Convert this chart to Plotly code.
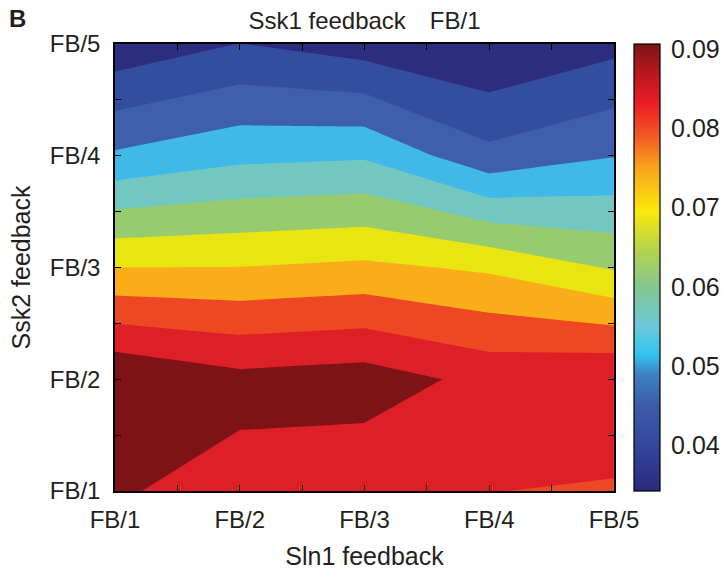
import plotly.graph_objects as go

# ---------------- data ----------------
sln1_labels = ["FB/1", "FB/2", "FB/3", "FB/4", "FB/5"]   # x axis (Sln1 feedback)
ssk2_labels = ["FB/1", "FB/2", "FB/3", "FB/4", "FB/5"]   # y axis (Ssk2 feedback)

# values, one row per Ssk2 level (FB/1 ... FB/5), columns = Sln1 FB/1 ... FB/5
z_ssk2_fb1 = [0.0855, 0.0832, 0.0811, 0.0801, 0.0794]
z_ssk2_fb2 = [0.0899, 0.0865, 0.0875, 0.0835, 0.0847]
z_ssk2_fb3 = [0.0700, 0.0701, 0.0711, 0.0692, 0.0645]
z_ssk2_fb4 = [0.0507, 0.0537, 0.0544, 0.0464, 0.0498]
z_ssk2_fb5 = [0.0365, 0.0401, 0.0375, 0.0351, 0.0385]

colorbar_ticks = [0.04, 0.05, 0.06, 0.07, 0.08, 0.09]
cbar_min, cbar_max = 0.0343, 0.0906
level_start, level_end, level_step = 0.040, 0.085, 0.005

# ---------------- styling ----------------
band_colors = ["#2C2D7F", "#344E9F", "#3E60AA", "#40B8E8", "#72C8C0", "#97CB6D",
               "#E8E512", "#F9AE19", "#EE4723", "#DD1F27", "#7D1317"]
n_b = len(band_colors)
band_scale = [[i / (n_b - 1), c] for i, c in enumerate(band_colors)]

jet_stops = [(0.0343, "#2A2A7C"), (0.040, "#34469B"), (0.045, "#3C5CA8"),
             (0.049, "#3F80C2"), (0.0515, "#33C3F0"), (0.055, "#6CC8DA"),
             (0.060, "#84C690"), (0.065, "#B9D548"), (0.0695, "#FBE90C"),
             (0.075, "#F8A41C"), (0.079, "#F15A26"), (0.083, "#ED1C24"),
             (0.087, "#B7181E"), (0.0906, "#7C1416")]
jet_scale = [[(v - cbar_min) / (cbar_max - cbar_min), c] for v, c in jet_stops]
jet_scale[0][0] = 0.0
jet_scale[-1][0] = 1.0

FONT = "Liberation Sans, Arial, Helvetica, sans-serif"
TXT = "#231F20"

x_pos = list(range(1, len(sln1_labels) + 1))
y_pos = list(range(1, len(ssk2_labels) + 1))
z = [z_ssk2_fb1, z_ssk2_fb2, z_ssk2_fb3, z_ssk2_fb4, z_ssk2_fb5]

fig = go.Figure()
fig.add_trace(go.Contour(
    x=x_pos, y=y_pos, z=z,
    contours=dict(start=level_start, end=level_end, size=level_step,
                  coloring="fill", showlines=False),
    colorscale=band_scale, showscale=False,
    line=dict(width=0, smoothing=0), hoverinfo="skip",
))

# continuous colorbar (separate dummy trace)
fig.add_trace(go.Scatter(
    x=[x_pos[0]], y=[y_pos[0]], mode="markers",
    marker=dict(size=0.1, opacity=0, color=[cbar_min], cmin=cbar_min, cmax=cbar_max,
                colorscale=jet_scale, showscale=True,
                colorbar=dict(
                    x=1.04, xanchor="left", y=0.5, yanchor="middle",
                    len=1.0, lenmode="fraction", thickness=26,
                    outlinewidth=1.2, outlinecolor="black",
                    tickvals=colorbar_ticks, ticktext=[f"{t:.2f}" for t in colorbar_ticks],
                    ticks="outside", ticklen=6, tickcolor="white",
                    tickfont=dict(family=FONT, size=25, color=TXT),
                    ypad=0, xpad=0,
                )),
    hoverinfo="skip", showlegend=False,
))

half_ticks = [1 + 0.5 * i for i in range(2 * len(sln1_labels) - 1)]

def tick_text(labels):
    out = []
    for i in range(2 * len(labels) - 1):
        out.append(labels[i // 2] if i % 2 == 0 else "")
    return out

axis_common = dict(
    showline=True, linecolor="black", linewidth=1.5, mirror="allticks",
    ticks="inside", ticklen=6, tickwidth=1, tickcolor="black",
    showgrid=False, zeroline=False,
    tickfont=dict(family=FONT, size=24, color=TXT),
    tickvals=half_ticks,
)

fig.update_xaxes(range=[1, 5], ticktext=tick_text(sln1_labels),
                 title=dict(text="Sln1 feedback", font=dict(family=FONT, size=25, color=TXT),
                            standoff=16),
                 ticklabelstandoff=6, **axis_common)
fig.update_yaxes(range=[1, 5], ticktext=tick_text(ssk2_labels),
                 title=dict(text="Ssk2 feedback", font=dict(family=FONT, size=25, color=TXT),
                            standoff=12),
                 ticklabelstandoff=8, **axis_common)

fig.update_layout(
    width=727, height=581,
    margin=dict(l=115, r=113, t=44, b=90, autoexpand=False),
    paper_bgcolor="white", plot_bgcolor="white",
    showlegend=False,
    title=dict(text="Ssk1 feedback\u2003FB/1", x=0.5, xref="paper", y=0.965, yanchor="middle",
               font=dict(family=FONT, size=24, color=TXT)),
    annotations=[dict(text="<b>B</b>", xref="paper", yref="paper",
                      x=-0.196, y=1.058, xanchor="center", yanchor="middle",
                      showarrow=False, font=dict(family=FONT, size=24, color=TXT))],
)

fig.write_html("out.html")
